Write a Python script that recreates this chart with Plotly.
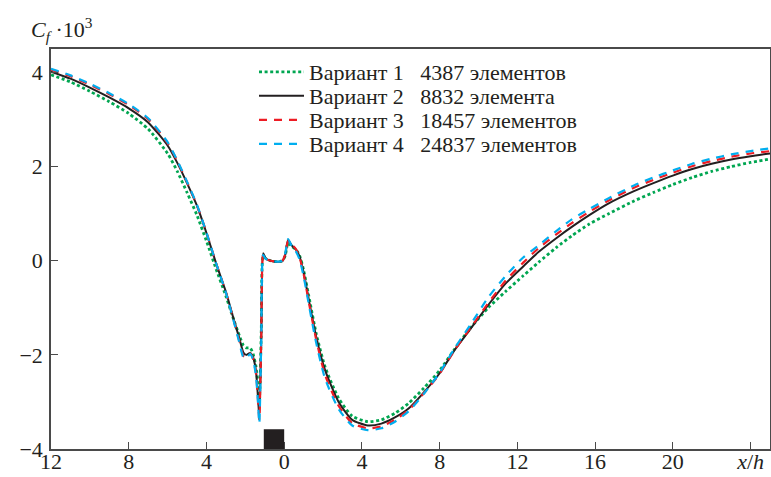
import plotly.graph_objects as go

# ---- data ----
x_pos = [-12, -11, -10, -9, -8, -7, -6, -5.5, -5, -4.5, -4, -3.5, -3, -2.6, -2.3, -2.1,
         -1.95, -1.75, -1.6, -1.45, -1.35, -1.28, -1.18, -1.08, -0.95, -0.7, -0.4, -0.1,
         0.05, 0.2, 0.4, 0.6, 0.8, 1.0, 1.3, 1.65, 2.1, 2.8, 3.5, 4.3, 5.0, 5.7, 6.4,
         7.2, 8.0, 8.8, 9.6, 10.5, 11.4, 12.3, 13.1, 14.0, 14.8, 15.7, 16.7, 18, 19,
         20, 21, 22, 23, 24, 25]

cf_v1 = [3.95, 3.80, 3.60, 3.38, 3.13, 2.80, 2.28, 1.90, 1.45, 0.98, 0.42, -0.18, -0.75,
         -1.25, -1.60, -1.80, -1.85, -1.85, -1.98, -2.25, -2.65, -3.00, -1.50, 0.10, 0.05,
         0.00, -0.02, 0.00, 0.10, 0.38, 0.30, 0.24, 0.10, -0.20, -0.82, -1.55, -2.25,
         -2.92, -3.30, -3.42, -3.38, -3.24, -3.03, -2.70, -2.33, -1.86, -1.42, -1.00,
         -0.65, -0.32, -0.03, 0.28, 0.53, 0.78, 1.00, 1.27, 1.45, 1.62, 1.77, 1.90,
         2.00, 2.09, 2.16]

cf_v2 = [4.02, 3.87, 3.68, 3.47, 3.24, 2.94, 2.45, 2.08, 1.65, 1.18, 0.59, -0.06, -0.66,
         -1.24, -1.66, -1.95, -2.00, -1.96, -2.05, -2.35, -2.90, -3.32, -1.60, 0.16, 0.05,
         0.00, -0.02, -0.01, 0.12, 0.44, 0.32, 0.24, 0.08, -0.25, -0.90, -1.62, -2.32,
         -3.00, -3.38, -3.50, -3.46, -3.33, -3.14, -2.79, -2.39, -1.88, -1.44, -0.94,
         -0.48, -0.12, 0.19, 0.48, 0.72, 0.97, 1.22, 1.48, 1.65, 1.81, 1.95, 2.06,
         2.15, 2.22, 2.28]

cf_v3 = [4.06, 3.92, 3.74, 3.54, 3.31, 3.01, 2.50, 2.12, 1.67, 1.19, 0.60, -0.06, -0.67,
         -1.26, -1.72, -2.02, -2.05, -1.97, -2.08, -2.40, -2.95, -3.38, -1.65, 0.14, 0.04,
         0.00, -0.02, 0.00, 0.13, 0.42, 0.34, 0.25, 0.06, -0.28, -0.95, -1.68, -2.42,
         -3.08, -3.45, -3.56, -3.52, -3.38, -3.17, -2.81, -2.40, -1.88, -1.42, -0.90,
         -0.42, -0.04, 0.27, 0.56, 0.80, 1.04, 1.28, 1.55, 1.72, 1.87, 2.01, 2.12,
         2.21, 2.28, 2.33]

cf_v4 = [4.08, 3.94, 3.76, 3.56, 3.33, 3.03, 2.52, 2.13, 1.68, 1.20, 0.60, -0.06, -0.68,
         -1.28, -1.75, -2.05, -2.07, -1.98, -2.10, -2.45, -3.00, -3.45, -1.70, 0.12, 0.04,
         0.00, -0.02, 0.00, 0.15, 0.46, 0.30, 0.20, 0.02, -0.33, -1.00, -1.75, -2.50,
         -3.15, -3.50, -3.60, -3.56, -3.42, -3.20, -2.82, -2.38, -1.84, -1.35, -0.78,
         -0.32, 0.07, 0.33, 0.63, 0.88, 1.10, 1.33, 1.60, 1.77, 1.92, 2.06, 2.17,
         2.26, 2.33, 2.39]

series_names = ["Вариант 1\u00a0\u00a0\u00a04387 элементов",
                "Вариант 2\u00a0\u00a0\u00a08832 элемента",
                "Вариант 3\u00a0\u00a0\u00a018457 элементов",
                "Вариант 4\u00a0\u00a0\u00a024837 элементов"]

x_tickvals = [-12, -8, -4, 0, 4, 8, 12, 16, 20, 24]
x_ticktext = ["12", "8", "4", "0", "4", "8", "12", "16", "20", "<i>x</i>/<i>h</i>"]
y_tickvals = [-4, -2, 0, 2, 4]
y_ticktext = ["\u22124", "\u22122", "0", "2", "4"]

# obstacle (rib) rectangle
rib_x = [-1.05, 0.0]
rib_y = [-4.0, -3.58]

# ---- styling ----
FONT = "Liberation Serif"
W, H = 771, 477
ML, MR, MT, MB = 51, 1, 49, 28
PW, PH = W - ML - MR, H - MT - MB

styles = [
    dict(color="#00a651", width=2.8, dash="3px,2.6px"),
    dict(color="#231f20", width=2.0, dash="solid"),
    dict(color="#ed1c24", width=2.2, dash="8px,7px"),
    dict(color="#00aeef", width=2.2, dash="8px,7px"),
]
series = [cf_v1, cf_v2, cf_v3, cf_v4]
legend_rows_px = [72, 96, 120, 144]
legend_x_px = 254

fig = go.Figure()
for i, (ys, st, name) in enumerate(zip(series, styles, series_names)):
    lg = "legend" if i == 0 else f"legend{i+1}"
    fig.add_trace(go.Scatter(
        x=x_pos, y=ys, mode="lines", name=name,
        line=dict(color=st["color"], width=st["width"], dash=st["dash"],
                  shape="spline", smoothing=0.6),
        legend=lg, showlegend=True,
    ))

legend_common = dict(
    xanchor="left", yanchor="middle", bgcolor="rgba(0,0,0,0)", borderwidth=0,
    font=dict(family=FONT, size=22, color="#231f20"),
    itemwidth=45,
)
legend_layout = {}
for i, ypx in enumerate(legend_rows_px):
    key = "legend" if i == 0 else f"legend{i+1}"
    legend_layout[key] = dict(
        x=(legend_x_px - ML) / PW,
        y=(H - MB - ypx) / PH,
        **legend_common,
    )

axis_common = dict(
    showline=True, mirror=True, linecolor="#4a4a4a", linewidth=1.5,
    ticks="inside", ticklen=7, tickwidth=1.2, tickcolor="#4a4a4a",
    showgrid=False, zeroline=False, automargin=False,
    tickfont=dict(family=FONT, size=22, color="#231f20"),
)

fig.update_layout(
    width=W, height=H,
    margin=dict(l=ML, r=MR, t=MT, b=MB, pad=0, autoexpand=False),
    paper_bgcolor="white", plot_bgcolor="white",
    font=dict(family=FONT, size=22, color="#231f20"),
    xaxis=dict(range=[-12, 25], tickmode="array", tickvals=x_tickvals,
               ticktext=x_ticktext, ticklabelstandoff=-8, **axis_common),
    yaxis=dict(range=[-4, 4.5], tickmode="array", tickvals=y_tickvals,
               ticktext=y_ticktext, ticklabelstandoff=2, **axis_common),
    shapes=[dict(type="rect", xref="x", yref="y", x0=rib_x[0], x1=rib_x[1],
                 y0=rib_y[0], y1=rib_y[1], fillcolor="#231f20", line=dict(width=0),
                 layer="above")],
    annotations=[dict(
        text="<i>C<sub>f</sub></i> \u00b710<sup>3</sup>", xref="paper", yref="paper",
        x=(29 - ML) / PW, y=(H - MB - 30) / PH, xanchor="left", yanchor="middle",
        showarrow=False, font=dict(family=FONT, size=22, color="#231f20"),
    )],
    **legend_layout,
)

fig.write_html("out.html")
